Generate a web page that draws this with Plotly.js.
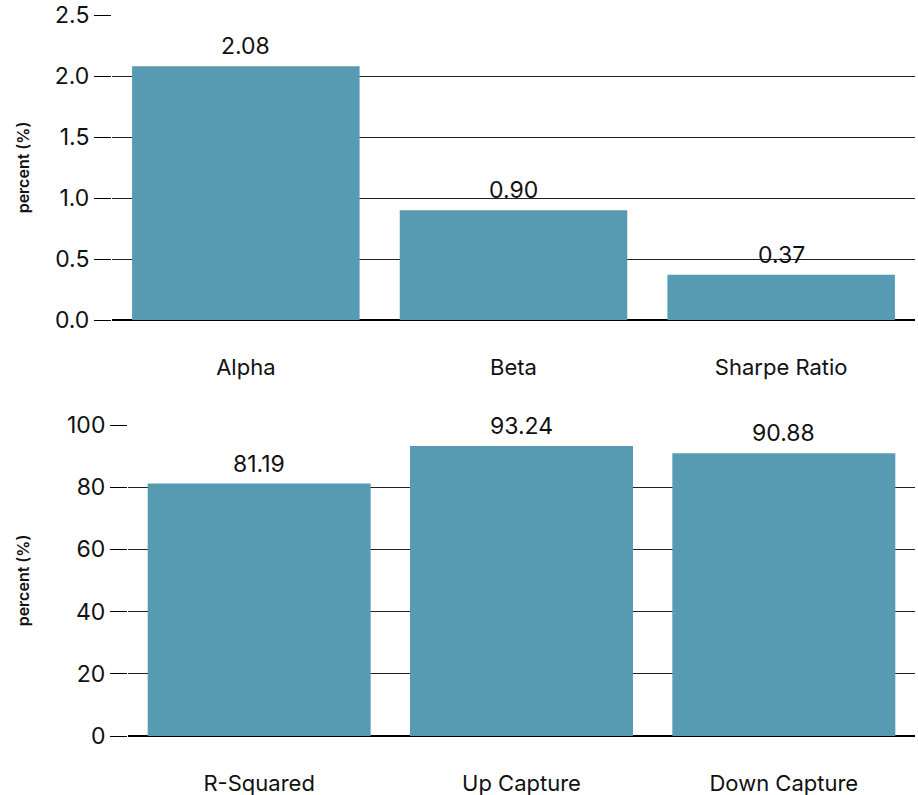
<!DOCTYPE html>
<html>
<head>
<meta charset="utf-8">
<script src="https://cdn.plot.ly/plotly-3.0.1.min.js"></script>
<style>html,body{margin:0;padding:0;background:#fff;}#chart{width:918px;height:795px;}</style>
</head>
<body>
<div id="chart"></div>
<script>
const riskCategories = ["Alpha", "Beta", "Sharpe Ratio"];
const riskValues = [2.08, 0.90, 0.37];
const captureCategories = ["R-Squared", "Up Capture", "Down Capture"];
const captureValues = [81.19, 93.24, 90.88];
const yTitle = "percent (%)";

const barColor = "#569bb2";
const W = 918, H = 795;
const FAM = "Inter, Liberation Sans, Arial, sans-serif";

const labelFont = {family: FAM, size: 23, color: "#111"};

const traces = [
  {
    type: "bar", x: riskCategories, y: riskValues, xaxis: "x", yaxis: "y",
    marker: {color: barColor}, hoverinfo: "none"
  },
  {
    type: "bar", x: captureCategories, y: captureValues, xaxis: "x2", yaxis: "y2",
    marker: {color: barColor}, hoverinfo: "none"
  }
];

function labels(cats, vals, xr, yr) {
  return cats.map((c, i) => ({
    x: c, y: vals[i], xref: xr, yref: yr, text: vals[i].toFixed(2),
    showarrow: false, yanchor: "bottom", yshift: 4, font: labelFont
  }));
}

const tickFont = {family: FAM, size: 23, color: "#111"};
const catFont = {family: FAM, size: 22, color: "#111"};
const titleFont = {family: FAM, size: 16, color: "#111", weight: 600};

function xa(domain, anchor) {
  return {domain: domain, anchor: anchor, showgrid: false, zeroline: false, showline: false,
    ticks: "", tickfont: catFont, ticklabelstandoff: 32, fixedrange: true};
}
function ya(domain, anchor, range, dtick, standoff) {
  return {domain: domain, anchor: anchor, range: range, dtick: dtick,
    showgrid: true, gridcolor: "#222", gridwidth: 1,
    zeroline: true, zerolinecolor: "#000", zerolinewidth: 1.5,
    showline: false, ticks: "outside", ticklen: 17, tickcolor: "#000", tickwidth: 1,
    tickfont: tickFont, title: {text: yTitle, font: titleFont, standoff: standoff}, fixedrange: true};
}

const layout = {
  width: W, height: H,
  margin: {l: 0, r: 0, t: 0, b: 0},
  paper_bgcolor: "#fff", plot_bgcolor: "#fff",
  showlegend: false, bargap: 0.15,
  xaxis: xa([112 / W, 915 / W], "y"),
  yaxis: Object.assign(ya([(H - 320) / H, (H - 15) / H], "x", [0, 2.5], 0.5, 21), {tickformat: ".1f"}),
  xaxis2: xa([128 / W, 915 / W], "y2"),
  yaxis2: ya([(H - 736) / H, (H - 425) / H], "x2", [0, 100], 20, 33),
  annotations: labels(riskCategories, riskValues, "x", "y")
    .concat(labels(captureCategories, captureValues, "x2", "y2"))
};

Plotly.newPlot("chart", traces, layout, {displayModeBar: false, staticPlot: true});
</script>
</body>
</html>
